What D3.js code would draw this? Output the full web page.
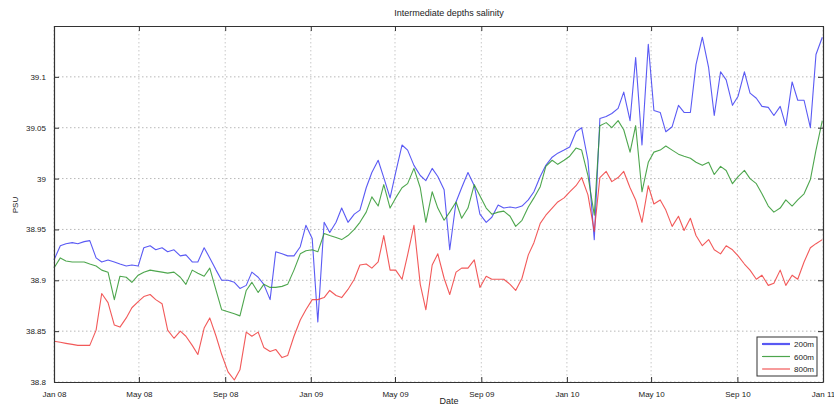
<!DOCTYPE html>
<html><head><meta charset="utf-8">
<script src="https://cdn.jsdelivr.net/npm/d3@7/dist/d3.min.js"></script>
<style>body{margin:0;background:#fff}svg{display:block;font-family:"Liberation Sans",Arial,sans-serif}</style>
</head><body>
<svg id="chart" width="834" height="407"></svg>
<script>
// Sample times: day offsets from 1 Jan 2008
const sampleDays = [0,9,17,26,34,43,51,60,68,77,86,94,103,111,120,128,137,145,154,162,171,180,188,197,205,214,222,231,239,248,257,265,274,282,291,299,308,316,325,333,342,351,359,368,376,385,393,402,410,419,428,436,445,453,462,470,479,487,496,504,513,522,530,539,547,556,564,573,581,590,599,607,616,624,633,641,650,658,667,676,684,693,701,710,718,727,735,744,752,761,770,778,787,795,804,812,821,829,838,847,855,864,872,881,890,898,907,915,924,933,941,950,958,967,975,984,992,1001,1009,1018,1026,1035,1043,1052,1060,1069,1078,1086,1095];
const sal200 = [38.920,38.934,38.936,38.937,38.936,38.938,38.939,38.922,38.918,38.920,38.918,38.916,38.914,38.915,38.914,38.932,38.934,38.930,38.932,38.928,38.930,38.924,38.925,38.918,38.918,38.932,38.922,38.910,38.900,38.900,38.898,38.892,38.895,38.908,38.903,38.896,38.881,38.928,38.926,38.924,38.924,38.933,38.954,38.941,38.859,38.957,38.947,38.957,38.971,38.957,38.965,38.969,38.991,39.006,39.018,39.001,38.981,39.006,39.033,39.028,39.013,39.003,38.998,39.010,39.002,38.989,38.930,38.977,38.991,39.006,38.993,38.965,38.957,38.962,38.974,38.971,38.972,38.971,38.973,38.979,38.987,39.002,39.013,39.021,39.025,39.028,39.031,39.046,39.050,39.018,38.940,39.059,39.061,39.064,39.069,39.085,39.057,39.119,39.033,39.132,39.067,39.065,39.046,39.051,39.072,39.065,39.065,39.112,39.139,39.109,39.062,39.105,39.097,39.072,39.081,39.105,39.084,39.079,39.071,39.070,39.062,39.071,39.052,39.095,39.077,39.077,39.050,39.122,39.139];
const sal600 = [38.912,38.922,38.919,38.918,38.918,38.918,38.916,38.914,38.910,38.908,38.881,38.904,38.903,38.898,38.905,38.908,38.910,38.909,38.908,38.907,38.908,38.903,38.896,38.910,38.907,38.904,38.912,38.890,38.871,38.869,38.867,38.865,38.890,38.898,38.888,38.896,38.893,38.893,38.894,38.896,38.910,38.926,38.929,38.930,38.928,38.946,38.944,38.942,38.940,38.944,38.950,38.957,38.967,38.982,38.973,38.994,38.971,38.981,38.991,38.995,39.010,38.991,38.957,38.987,38.971,38.959,38.967,38.977,38.961,38.971,38.994,38.983,38.971,38.965,38.967,38.968,38.963,38.953,38.959,38.972,38.981,38.992,39.012,39.018,39.014,39.018,39.022,39.030,39.028,39.003,38.964,39.052,39.055,39.050,39.057,39.048,39.026,39.052,38.987,39.016,39.026,39.028,39.032,39.028,39.024,39.022,39.020,39.016,39.013,39.016,39.004,39.012,39.008,38.995,39.002,39.008,39.000,38.995,38.985,38.973,38.967,38.971,38.979,38.973,38.979,38.985,38.999,39.028,39.057];
const sal800 = [38.840,38.839,38.838,38.837,38.836,38.836,38.836,38.851,38.887,38.878,38.856,38.854,38.863,38.873,38.879,38.884,38.886,38.881,38.877,38.851,38.843,38.850,38.845,38.836,38.827,38.853,38.863,38.845,38.827,38.810,38.802,38.812,38.849,38.845,38.849,38.834,38.830,38.832,38.824,38.826,38.845,38.861,38.871,38.881,38.881,38.883,38.890,38.885,38.883,38.891,38.901,38.915,38.916,38.912,38.918,38.944,38.910,38.910,38.901,38.925,38.954,38.896,38.871,38.915,38.926,38.902,38.886,38.908,38.912,38.912,38.920,38.893,38.904,38.901,38.901,38.901,38.896,38.890,38.902,38.925,38.937,38.956,38.964,38.971,38.977,38.981,38.987,38.993,39.001,38.984,38.948,39.001,39.007,38.997,39.001,39.007,38.991,38.979,38.957,38.993,38.975,38.979,38.969,38.953,38.963,38.949,38.961,38.944,38.934,38.940,38.930,38.926,38.934,38.930,38.924,38.916,38.910,38.901,38.905,38.895,38.897,38.910,38.895,38.905,38.901,38.918,38.932,38.936,38.940];
const seriesNames = ["200m","600m","800m"];
const seriesColors = ["#3d3df2","#2f962f","#f03c3c"];
const xTickDates = ["2008-01-01","2008-05-01","2008-09-01","2009-01-01","2009-05-01","2009-09-01","2010-01-01","2010-05-01","2010-09-01","2011-01-01"];
const xTickLabels = ["Jan 08","May 08","Sep 08","Jan 09","May 09","Sep 09","Jan 10","May 10","Sep 10","Jan 11"];
const yTicks = [38.8,38.85,38.9,38.95,39,39.05,39.1];
const yTickLabels = ["38.8","38.85","38.9","38.95","39","39.05","39.1"];

const W = 834, H = 407;
const m = {left:54, top:26, right:11, bottom:25};
const svg = d3.select("#chart");
const parse = d3.timeParse("%Y-%m-%d");
const t0 = new Date(2008,0,1);
const dates = sampleDays.map(d => d3.timeDay.offset(t0, d));
const x = d3.scaleTime().domain([t0, new Date(2011,0,1)]).range([m.left, W - m.right]);
const y = d3.scaleLinear().domain([38.8, 39.15]).range([H - m.bottom, m.top]);
const tickD = xTickDates.map(parse);

const g = svg.append("g");
// grid
g.append("g").selectAll("line").data(yTicks).join("line")
  .attr("x1", m.left).attr("x2", W - m.right)
  .attr("y1", d => y(d)).attr("y2", d => y(d))
  .attr("stroke", "#b8b8b8").attr("stroke-dasharray", "1.5,2.5").attr("stroke-width", 1);
g.append("g").selectAll("line").data(tickD).join("line")
  .attr("y1", m.top).attr("y2", H - m.bottom)
  .attr("x1", d => x(d)).attr("x2", d => x(d))
  .attr("stroke", "#c8c8c8").attr("stroke-dasharray", "1.5,2.5").attr("stroke-width", 1);

// lines
const line = d3.line().x((d, i) => x(dates[i])).y(d => y(d));
const allSeries = [sal200, sal600, sal800];
allSeries.forEach((s, i) => {
  g.append("path").datum(s).attr("d", line)
    .attr("fill", "none").attr("stroke", seriesColors[i]).attr("stroke-width", 1.1)
    .attr("stroke-linejoin", "round").attr("opacity", 0.85);
});

// frame & axes (MATLAB style, ticks inward)
const fmtX = (d, i) => xTickLabels[i];
const axB = d3.axisBottom(x).tickValues(tickD).tickFormat(fmtX).tickSizeInner(-5).tickSizeOuter(0).tickPadding(9);
const axT = d3.axisTop(x).tickValues(tickD).tickFormat("").tickSizeInner(-5).tickSizeOuter(0);
const axL = d3.axisLeft(y).tickValues(yTicks).tickFormat((d, i) => yTickLabels[i]).tickSizeInner(-5).tickSizeOuter(0).tickPadding(8);
const axR = d3.axisRight(y).tickValues(yTicks).tickFormat("").tickSizeInner(-5).tickSizeOuter(0);
function styleAx(sel) {
  sel.selectAll("path").attr("stroke", "#333").attr("stroke-width", 1.2);
  sel.selectAll("line").attr("stroke", "#333");
  sel.selectAll("text").attr("fill", "#222").style("font-size", "8px");
}
svg.append("g").attr("transform", `translate(0,${H - m.bottom})`).call(axB).call(styleAx);
svg.append("g").attr("transform", `translate(0,${m.top})`).call(axT).call(styleAx);
svg.append("g").attr("transform", `translate(${m.left},0)`).call(axL).call(styleAx);
svg.append("g").attr("transform", `translate(${W - m.right},0)`).call(axR).call(styleAx);

// title and labels
svg.append("text").attr("x", 449).attr("y", 16).attr("text-anchor", "middle")
  .style("font-size", "9px").attr("fill", "#222").text("Intermediate depths salinity");
svg.append("text").attr("x", 449).attr("y", 404).attr("text-anchor", "middle")
  .style("font-size", "9px").attr("fill", "#222").text("Date");
svg.append("text").attr("transform", "translate(18,205) rotate(-90)").attr("text-anchor", "middle")
  .style("font-size", "8px").attr("fill", "#222").text("PSU");

// legend
const lg = svg.append("g").attr("transform", "translate(757,337)");
lg.append("rect").attr("width", 60).attr("height", 39).attr("fill", "#fff").attr("stroke", "#333").attr("stroke-width", 1);
seriesNames.forEach((n, i) => {
  const yy = 7 + i * 12.5;
  lg.append("line").attr("x1", 5).attr("x2", 33).attr("y1", yy).attr("y2", yy)
    .attr("stroke", seriesColors[i]).attr("stroke-width", i === 0 ? 2.2 : 1.2).attr("opacity", 0.85);
  lg.append("text").attr("x", 57).attr("y", yy + 3).attr("text-anchor", "end")
    .style("font-size", "8px").attr("fill", "#222").text(n);
});
</script>
</body></html>
